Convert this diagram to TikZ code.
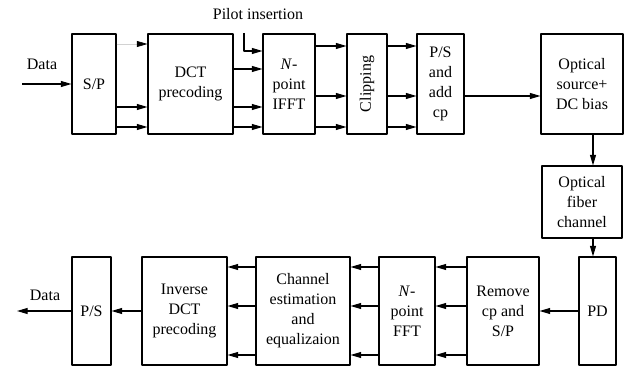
\documentclass[tikz,border=0pt]{standalone}
\usepackage{fontspec}
\setmainfont{Liberation Serif}
\usetikzlibrary{arrows.meta}
\tikzset{
  box/.style={draw,line width=0.8pt,align=center,inner sep=1pt},
  topbox/.style={box,minimum height=75pt},
  botbox/.style={box,minimum height=81pt},
  sig/.style={line width=0.8pt,-{Triangle[length=8pt,width=4.5pt]}}
}
\begin{document}
\begin{tikzpicture}[x=0.75pt,y=-0.75pt,font=\fontsize{12}{15}\selectfont,line join=round]
	\useasboundingbox (0,0) rectangle (629,367);
	% transmitter
	\node[topbox,minimum width=33pt] (sp) at (94,84) {S/P};
	\node[topbox,minimum width=63.75pt] (dct) at (190.5,84) {DCT\\precoding};
	\node[topbox,minimum width=39pt] (ifft) at (289,84) {\textit{N}-\\point\\IFFT};
	\node[topbox,minimum width=30pt] (clip) at (367,84) {\rotatebox{90}{Clipping}};
	\node[topbox,minimum width=35.25pt] (ps) at (440.5,84) {P/S\\and\\add\\cp};
	\node[topbox,minimum width=61.5pt] (opt) at (582,84) {Optical\\source+\\DC bias};
	\node[box,minimum width=60pt,minimum height=54pt] (fiber) at (582,202) {Optical\\fiber\\channel};
	% receiver
	\node[botbox,minimum width=27.75pt] (pd) at (597.5,311) {PD};
	\node[botbox,minimum width=54pt] (rem) at (503,311) {Remove\\cp and\\S/P};
	\node[botbox,minimum width=42pt] (fft) at (407,311) {\textit{N}-\\point\\FFT};
	\node[botbox,minimum width=70.5pt] (chan) at (303,311) {Channel\\estimation\\and\\equalizaion};
	\node[botbox,minimum width=63.75pt] (idct) at (184.5,311) {Inverse\\DCT\\precoding};
	\node[botbox,minimum width=29.25pt] (ps2) at (91.5,311) {P/S};
	% inputs and outputs
	\coordinate (din) at (22,84);
	\coordinate (dout) at (17,311);
	\coordinate (pilot) at (244,33);
	\node (lin) at (42,64) {Data};
	\node (lout) at (45,295) {Data};
	\node (lpilot) at (258,14) {Pilot insertion};
	% connectors
	\draw[sig] (din) -- (sp.west);
	\draw[sig,gray!35,line width=0.5pt,-{Triangle[length=8pt,width=4.5pt,black]}] (sp.east |- 0,44) -- (dct.west |- 0,44);
	\foreach \y in {107,127}
	\draw[sig] (sp.east |- 0,\y) -- (dct.west |- 0,\y);
	\foreach \y in {69,107,127}
	\draw[sig] (dct.east |- 0,\y) -- (ifft.west |- 0,\y);
	\draw[sig] (pilot) |- (ifft.west |- 0,51);
	\foreach \y in {46,96,127}{
	\draw[sig] (ifft.east |- 0,\y) -- (clip.west |- 0,\y);
	\draw[sig] (clip.east |- 0,\y) -- (ps.west |- 0,\y);}
	\draw[sig] (ps.east |- 0,96) -- (opt.west |- 0,96);
	\draw[sig] (opt.south -| 593,0) -- (fiber.north -| 593,0);
	\draw[sig] (fiber.south -| 593,0) -- (pd.north -| 593,0);
	\draw[sig] (pd.west) -- (rem.east);
	\foreach \y in {267,306,355}{
	\draw[sig] (rem.west |- 0,\y) -- (fft.east |- 0,\y);
	\draw[sig] (fft.west |- 0,\y) -- (chan.east |- 0,\y);
	\draw[sig] (chan.west |- 0,\y) -- (idct.east |- 0,\y);}
	\draw[sig] (idct.west) -- (ps2.east);
	\draw[sig] (ps2.west) -- (dout);
\end{tikzpicture}
\end{document}
